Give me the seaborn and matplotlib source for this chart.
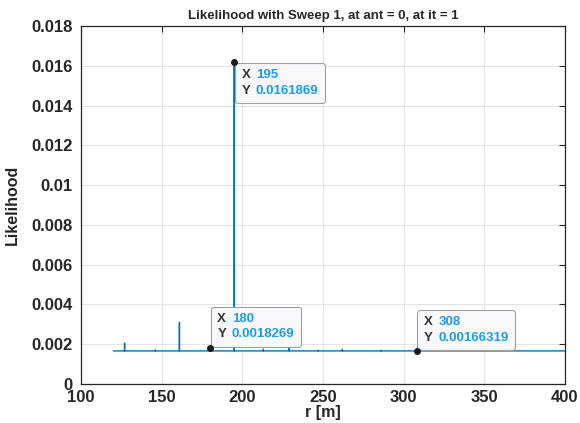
import matplotlib
matplotlib.use('Agg')
import numpy as np
import pandas as pd
import matplotlib.pyplot as plt
import seaborn as sns
from matplotlib.offsetbox import TextArea, VPacker, HPacker, AnnotationBbox

# range bins [m] and likelihood values
r_start, r_stop, r_step = 120, 400, 0.1
baseline = 0.00166319
spike_r = [127, 146, 161, 180, 195, 213, 229, 247, 262, 286]
spike_vals = [0.00206, 0.00172, 0.0031, 0.0018269, 0.0161869,
              0.00175, 0.00185, 0.0017, 0.00175, 0.00169]
tip_r = [195, 180, 308]
tip_labels = ['0.0161869', '0.0018269', '0.00166319']

r = np.round(np.arange(r_start, r_stop + r_step / 2, r_step), 1)
lik = np.full(r.shape, baseline)
for sr, sv in zip(spike_r, spike_vals):
    lik[np.isclose(r, sr)] = sv
df = pd.DataFrame({'r': r, 'lik': lik})

sns.set_style('white')
plt.rcParams['font.family'] = ['Liberation Sans', 'DejaVu Sans']

fig = plt.figure(figsize=(5.8, 4.23), dpi=100)
ax = fig.add_axes([0.1397, 0.0922, 0.8343, 0.8463])
sns.lineplot(data=df, x='r', y='lik', ax=ax, color='#0072BD', linewidth=1.0)

ax.set_xlim(100, 400)
ax.set_ylim(0, 0.018)
ax.set_xticks(range(100, 401, 50))
ax.set_yticks(np.arange(0, 0.0181, 0.002))
ax.set_yticklabels(['0', '0.002', '0.004', '0.006', '0.008', '0.01',
                    '0.012', '0.014', '0.016', '0.018'])
ax.grid(True, color='#e3e3e3', linewidth=0.8)
ax.tick_params(direction='in', length=4, top=True, right=True,
               labelsize=12, color='#262626')
ax.tick_params(axis='y', pad=6)
ax.tick_params(axis='x', pad=4)
for lab in ax.get_xticklabels() + ax.get_yticklabels():
    lab.set_fontweight('bold')
for sp in ax.spines.values():
    sp.set_color('#262626')
    sp.set_linewidth(0.9)

ax.set_xlabel('r [m]', fontsize=11.5, fontweight='bold', labelpad=0)
ax.set_ylabel('Likelihood', fontsize=11.5, fontweight='bold', labelpad=8)
ax.set_title('Likelihood with Sweep 1, at ant = 0, at it = 1', fontsize=9.5,
             fontweight='bold', family=['Liberation Sans Narrow', 'Liberation Sans'], pad=5)

# data tips
placements = [((5.2, -5.2), (0, 1)), ((5.2, 5.2), (0, 0)), ((5.2, 5.2), (0, 0))]
for tr, tl, (off, align) in zip(tip_r, tip_labels, placements):
    ty = df.loc[np.isclose(df['r'], tr), 'lik'].iloc[0]
    ax.plot(tr, ty, 'o', color='#1a1a1a', markersize=4, zorder=8)
    kp = dict(fontsize=9.5, fontweight='bold', color='#333333')
    vp = dict(fontsize=9.5, fontweight='bold', color='#1E9BE6')
    keys = VPacker(children=[TextArea('X', textprops=kp), TextArea('Y', textprops=kp)],
                   align='left', pad=0, sep=2.5)
    vals = VPacker(children=[TextArea(str(tr), textprops=vp), TextArea(tl, textprops=vp)],
                   align='left', pad=0, sep=2.5)
    box = HPacker(children=[keys, vals], align='top', pad=0, sep=4)
    ab = AnnotationBbox(box, (tr, ty), xybox=off, xycoords='data',
                        boxcoords='offset points', box_alignment=align,
                        frameon=True, zorder=6,
                        bboxprops=dict(boxstyle='round,pad=0.45,rounding_size=0.2',
                                       fc='#f8f8fa', ec='#a0a0a0', lw=0.8))
    ax.add_artist(ab)

fig.savefig('out.png', dpi=100)
